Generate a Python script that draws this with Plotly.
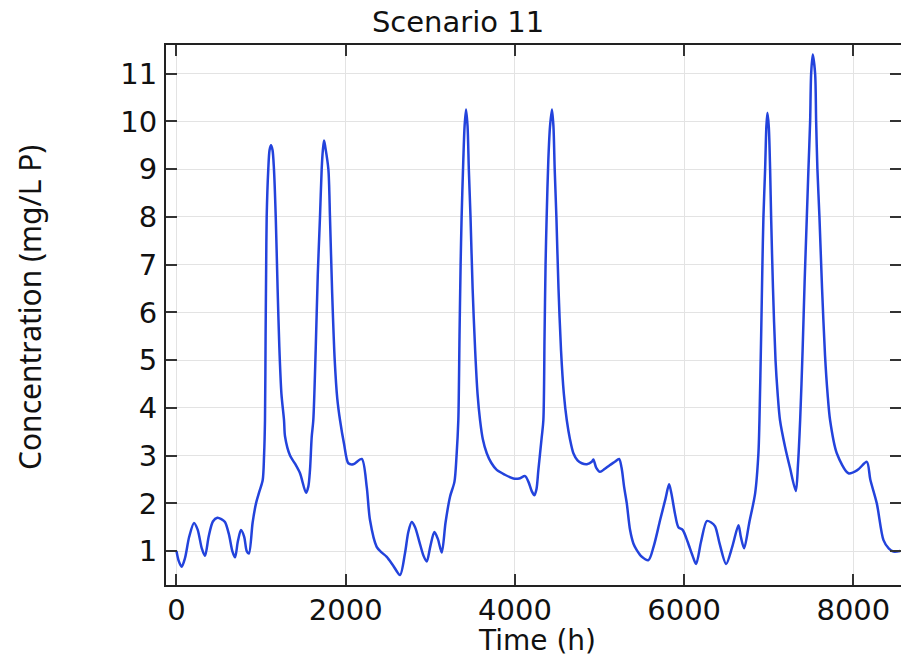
import plotly.graph_objects as go

# Phosphorus concentration time series for scenario 11
time_h = [
    0, 25, 61, 100, 150, 207, 250, 300, 337, 380, 430, 483, 530, 573, 620, 660, 692, 725, 762, 800,
    830, 856, 900, 940, 980, 1019, 1035, 1046, 1053, 1060, 1066, 1085, 1100, 1117, 1135, 1152, 1173,
    1195, 1215, 1240, 1271, 1283, 1342, 1401, 1460, 1531, 1558, 1578, 1598, 1617, 1645, 1670, 1696,
    1716, 1730, 1744, 1760, 1795, 1814, 1840, 1870, 1900, 1933, 1980, 2031, 2090, 2189, 2248, 2287,
    2366, 2420, 2485, 2560, 2642, 2700, 2740, 2780, 2820, 2870, 2920, 2958, 3000, 3048, 3090, 3135,
    3180, 3233, 3285, 3310, 3331, 3345, 3358, 3370, 3390, 3405, 3422, 3440, 3455, 3475, 3500, 3530,
    3558, 3588, 3620, 3667, 3720, 3785, 3880, 3982, 4050, 4120, 4160, 4200, 4230, 4255, 4277, 4317,
    4336, 4350, 4362, 4375, 4395, 4415, 4438, 4455, 4470, 4490, 4515, 4545, 4578, 4613, 4650, 4691,
    4740, 4790, 4850, 4908, 4927, 4960, 5006, 5060, 5120, 5180, 5231, 5260, 5290, 5322, 5361, 5400,
    5440, 5500, 5578, 5640, 5716, 5780, 5822, 5850, 5890, 5932, 5984, 6040, 6100, 6141, 6200, 6268,
    6320, 6366, 6420, 6496, 6570, 6642, 6670, 6709, 6770, 6839, 6878, 6890, 6910, 6925, 6937, 6957,
    6972, 6984, 7000, 7016, 7028, 7050, 7080, 7105, 7133, 7193, 7250, 7320, 7345, 7371, 7400, 7425,
    7450, 7469, 7489, 7501, 7520, 7548, 7560, 7575, 7599, 7630, 7665, 7695, 7725, 7804, 7942, 8050,
    8159, 8200, 8277, 8356, 8420, 8474, 8553,
]
conc_mg_l = [
    1.0, 0.8, 0.67, 0.85, 1.3, 1.59, 1.45, 1.05, 0.90, 1.3, 1.62, 1.70, 1.67, 1.61, 1.35, 1.0, 0.87, 1.2, 1.44, 1.3,
    1.0, 0.95, 1.6, 2.0, 2.25, 2.49, 3.0, 3.74, 5.5, 7.0, 8.0, 9.0, 9.4, 9.5, 9.4, 9.0, 8.0,
    6.5, 5.3, 4.3, 3.74, 3.4, 3.0, 2.83, 2.63, 2.22, 2.35, 2.7, 3.39, 3.74, 5.2, 6.8, 8.0,
    9.0, 9.4, 9.6, 9.45, 9.0, 8.0, 6.4, 5.0, 4.2, 3.74, 3.25, 2.84, 2.82, 2.93, 2.35, 1.65,
    1.09, 0.98, 0.88, 0.70, 0.50, 0.95, 1.4, 1.61, 1.5, 1.2, 0.9, 0.78, 1.1, 1.40, 1.25, 0.97,
    1.6, 2.14, 2.45, 3.0, 3.74, 5.5, 7.0, 8.0, 9.2, 9.9, 10.25, 9.9, 9.0, 8.0, 6.5, 5.2,
    4.3, 3.74, 3.35, 3.05, 2.85, 2.70, 2.6, 2.52, 2.52, 2.57, 2.45, 2.25, 2.17, 2.3, 2.70, 3.39,
    3.74, 5.5, 7.0, 8.0, 9.2, 9.9, 10.25, 9.9, 9.0, 8.0, 6.5, 5.2, 4.3, 3.74, 3.35, 3.05,
    2.9, 2.84, 2.82, 2.87, 2.92, 2.75, 2.66, 2.72, 2.8, 2.87, 2.93, 2.75, 2.35, 2.0, 1.44, 1.16,
    1.02, 0.88, 0.81, 1.1, 1.65, 2.1, 2.40, 2.2, 1.8, 1.50, 1.44, 1.2, 0.9, 0.73, 1.2, 1.63,
    1.6, 1.52, 1.15, 0.73, 1.1, 1.54, 1.3, 1.06, 1.6, 2.21, 3.05, 3.74, 5.5, 7.0, 8.0, 9.0,
    9.9, 10.18, 9.9, 9.0, 8.0, 6.5, 5.0, 4.3, 3.74, 3.18, 2.75, 2.26, 2.8, 3.74, 5.2, 6.7,
    8.0, 9.0, 10.0, 11.0, 11.4, 11.0, 10.0, 9.0, 8.0, 6.5, 5.1, 4.3, 3.74, 3.05, 2.63, 2.7,
    2.87, 2.5, 2.0, 1.23, 1.05, 0.99, 1.0,
]

x_ticks = [0, 2000, 4000, 6000, 8000]
y_ticks = [1, 2, 3, 4, 5, 6, 7, 8, 9, 10, 11]

W, H = 901, 662
L, R, T, B = 166, 0, 45, 77

fig = go.Figure()
fig.add_trace(go.Scatter(
    x=time_h, y=conc_mg_l, mode="lines",
    line=dict(color="#2343dc", width=2.5, shape="spline", smoothing=0.8),
    hoverinfo="skip", showlegend=False,
))

axis_common = dict(
    automargin=False,
    showline=True, linecolor="#222222", linewidth=2, mirror="ticks",
    ticks="inside", ticklen=11, tickwidth=2, tickcolor="#333333",
    showgrid=True, gridcolor="#e3e3e3", gridwidth=1, zeroline=False,
    tickfont=dict(family="DejaVu Sans", size=29, color="#111111"),
)

fig.update_xaxes(range=[-124, 8563], tickvals=x_ticks, ticklabelstandoff=-2, **axis_common)
fig.update_yaxes(range=[0.29, 11.6], tickvals=y_ticks, ticklabelstandoff=1, **axis_common)

fig.update_layout(
    template="none",
    width=W, height=H, autosize=False,
    margin=dict(l=L, r=R, t=T, b=B, pad=0, autoexpand=False),
    paper_bgcolor="white", plot_bgcolor="white",
    title=dict(text="Scenario 11", x=458 / W, xref="container", xanchor="center",
               y=1 - 22 / H, yref="container", yanchor="middle",
               font=dict(family="DejaVu Sans", size=29, color="#111111")),
    annotations=[
        dict(text="Time (h)", xref="paper", yref="paper",
             x=(537 - L) / (W - L - R), y=-(640 - (H - B)) / (H - T - B),
             xanchor="center", yanchor="middle", showarrow=False,
             font=dict(family="DejaVu Sans", size=28, color="#111111")),
        dict(text="Concentration (mg/L P)", xref="paper", yref="paper",
             x=-(L - 29) / (W - L - R), y=((H - B) - 308) / (H - T - B),
             xanchor="center", yanchor="middle", textangle=-90, showarrow=False,
             font=dict(family="Noto Sans", size=30, color="#111111")),
    ],
)

fig.write_html("out.html")
